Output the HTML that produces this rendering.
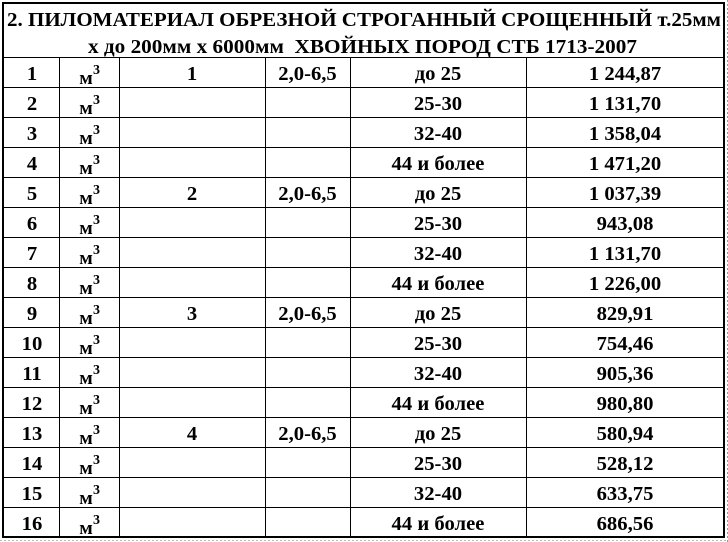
<!DOCTYPE html>
<html>
<head>
<meta charset="utf-8">
<style>
html,body{margin:0;padding:0;background:#fff;}
svg{display:block;}
text{font-family:"Liberation Serif","DejaVu Serif",serif;font-weight:bold;fill:#000;}
</style>
</head>
<body>
<svg width="728" height="542" viewBox="0 0 728 542" xmlns="http://www.w3.org/2000/svg">
<rect x="0" y="0" width="728" height="542" fill="#fff"/>
<line x1="727.5" y1="0" x2="727.5" y2="542" stroke="#999" stroke-width="1" stroke-dasharray="2,2"/>
<line x1="0" y1="540.5" x2="728" y2="540.5" stroke="#bbb" stroke-width="1" stroke-dasharray="2,2"/>

<rect x="3" y="3" width="721" height="534" fill="none" stroke="#000" stroke-width="2"/>

<g stroke="#000" stroke-width="1">
<line x1="4" y1="57.5" x2="723" y2="57.5"/>
<line x1="4" y1="87.5" x2="723" y2="87.5"/>
<line x1="4" y1="117.5" x2="723" y2="117.5"/>
<line x1="4" y1="147.5" x2="723" y2="147.5"/>
<line x1="4" y1="177.5" x2="723" y2="177.5"/>
<line x1="4" y1="207.5" x2="723" y2="207.5"/>
<line x1="4" y1="237.5" x2="723" y2="237.5"/>
<line x1="4" y1="267.5" x2="723" y2="267.5"/>
<line x1="4" y1="297.5" x2="723" y2="297.5"/>
<line x1="4" y1="327.5" x2="723" y2="327.5"/>
<line x1="4" y1="357.5" x2="723" y2="357.5"/>
<line x1="4" y1="387.5" x2="723" y2="387.5"/>
<line x1="4" y1="417.5" x2="723" y2="417.5"/>
<line x1="4" y1="447.5" x2="723" y2="447.5"/>
<line x1="4" y1="477.5" x2="723" y2="477.5"/>
<line x1="4" y1="507.5" x2="723" y2="507.5"/>
<line x1="59.5" y1="57" x2="59.5" y2="536"/>
<line x1="119.5" y1="57" x2="119.5" y2="536"/>
<line x1="265.5" y1="57" x2="265.5" y2="536"/>
<line x1="350.5" y1="57" x2="350.5" y2="536"/>
<line x1="526.5" y1="57" x2="526.5" y2="536"/>
</g>

<text x="7" y="26" font-size="20" textLength="714" lengthAdjust="spacingAndGlyphs">2. ПИЛОМАТЕРИАЛ ОБРЕЗНОЙ СТРОГАННЫЙ СРОЩЕННЫЙ т.25мм</text>
<text x="88" y="53" font-size="20" textLength="549" lengthAdjust="spacingAndGlyphs" style="white-space:pre">х до 200мм х 6000мм  ХВОЙНЫХ ПОРОД СТБ 1713-2007</text>

<g font-size="19.5" text-anchor="middle">
<text transform="translate(32,80) scale(1.06,1)">1</text>
<text transform="translate(32,110) scale(1.06,1)">2</text>
<text transform="translate(32,140) scale(1.06,1)">3</text>
<text transform="translate(32,170) scale(1.06,1)">4</text>
<text transform="translate(32,200) scale(1.06,1)">5</text>
<text transform="translate(32,230) scale(1.06,1)">6</text>
<text transform="translate(32,260) scale(1.06,1)">7</text>
<text transform="translate(32,290) scale(1.06,1)">8</text>
<text transform="translate(32,320) scale(1.06,1)">9</text>
<text transform="translate(32,350) scale(1.06,1)">10</text>
<text transform="translate(32,380) scale(1.06,1)">11</text>
<text transform="translate(32,410) scale(1.06,1)">12</text>
<text transform="translate(32,440) scale(1.06,1)">13</text>
<text transform="translate(32,470) scale(1.06,1)">14</text>
<text transform="translate(32,500) scale(1.06,1)">15</text>
<text transform="translate(32,530) scale(1.06,1)">16</text>

<text transform="translate(192,80) scale(1.06,1)">1</text>
<text transform="translate(307.5,80) scale(1.06,1)">2,0-6,5</text>
<text transform="translate(192,200) scale(1.06,1)">2</text>
<text transform="translate(307.5,200) scale(1.06,1)">2,0-6,5</text>
<text transform="translate(192,320) scale(1.06,1)">3</text>
<text transform="translate(307.5,320) scale(1.06,1)">2,0-6,5</text>
<text transform="translate(192,440) scale(1.06,1)">4</text>
<text transform="translate(307.5,440) scale(1.06,1)">2,0-6,5</text>

<text transform="translate(438,80) scale(1.06,1)">до 25</text>
<text transform="translate(438,110) scale(1.06,1)">25-30</text>
<text transform="translate(438,140) scale(1.06,1)">32-40</text>
<text transform="translate(438,170) scale(1.06,1)">44 и более</text>
<text transform="translate(438,200) scale(1.06,1)">до 25</text>
<text transform="translate(438,230) scale(1.06,1)">25-30</text>
<text transform="translate(438,260) scale(1.06,1)">32-40</text>
<text transform="translate(438,290) scale(1.06,1)">44 и более</text>
<text transform="translate(438,320) scale(1.06,1)">до 25</text>
<text transform="translate(438,350) scale(1.06,1)">25-30</text>
<text transform="translate(438,380) scale(1.06,1)">32-40</text>
<text transform="translate(438,410) scale(1.06,1)">44 и более</text>
<text transform="translate(438,440) scale(1.06,1)">до 25</text>
<text transform="translate(438,470) scale(1.06,1)">25-30</text>
<text transform="translate(438,500) scale(1.06,1)">32-40</text>
<text transform="translate(438,530) scale(1.06,1)">44 и более</text>

<text transform="translate(625,80) scale(1.06,1)">1 244,87</text>
<text transform="translate(625,110) scale(1.06,1)">1 131,70</text>
<text transform="translate(625,140) scale(1.06,1)">1 358,04</text>
<text transform="translate(625,170) scale(1.06,1)">1 471,20</text>
<text transform="translate(625,200) scale(1.06,1)">1 037,39</text>
<text transform="translate(625,230) scale(1.06,1)">943,08</text>
<text transform="translate(625,260) scale(1.06,1)">1 131,70</text>
<text transform="translate(625,290) scale(1.06,1)">1 226,00</text>
<text transform="translate(625,320) scale(1.06,1)">829,91</text>
<text transform="translate(625,350) scale(1.06,1)">754,46</text>
<text transform="translate(625,380) scale(1.06,1)">905,36</text>
<text transform="translate(625,410) scale(1.06,1)">980,80</text>
<text transform="translate(625,440) scale(1.06,1)">580,94</text>
<text transform="translate(625,470) scale(1.06,1)">528,12</text>
<text transform="translate(625,500) scale(1.06,1)">633,75</text>
<text transform="translate(625,530) scale(1.06,1)">686,56</text>
</g>

<g font-size="19" text-anchor="middle">
<text transform="translate(86,84) scale(1.05,1)">м</text>
<text transform="translate(86,114) scale(1.05,1)">м</text>
<text transform="translate(86,144) scale(1.05,1)">м</text>
<text transform="translate(86,174) scale(1.05,1)">м</text>
<text transform="translate(86,204) scale(1.05,1)">м</text>
<text transform="translate(86,234) scale(1.05,1)">м</text>
<text transform="translate(86,264) scale(1.05,1)">м</text>
<text transform="translate(86,294) scale(1.05,1)">м</text>
<text transform="translate(86,324) scale(1.05,1)">м</text>
<text transform="translate(86,354) scale(1.05,1)">м</text>
<text transform="translate(86,384) scale(1.05,1)">м</text>
<text transform="translate(86,414) scale(1.05,1)">м</text>
<text transform="translate(86,444) scale(1.05,1)">м</text>
<text transform="translate(86,474) scale(1.05,1)">м</text>
<text transform="translate(86,504) scale(1.05,1)">м</text>
<text transform="translate(86,534) scale(1.05,1)">м</text>
</g>
<g font-size="14">
<text x="93" y="74">3</text>
<text x="93" y="104">3</text>
<text x="93" y="134">3</text>
<text x="93" y="164">3</text>
<text x="93" y="194">3</text>
<text x="93" y="224">3</text>
<text x="93" y="254">3</text>
<text x="93" y="284">3</text>
<text x="93" y="314">3</text>
<text x="93" y="344">3</text>
<text x="93" y="374">3</text>
<text x="93" y="404">3</text>
<text x="93" y="434">3</text>
<text x="93" y="464">3</text>
<text x="93" y="494">3</text>
<text x="93" y="524">3</text>
</g>
</svg>
</body>
</html>
